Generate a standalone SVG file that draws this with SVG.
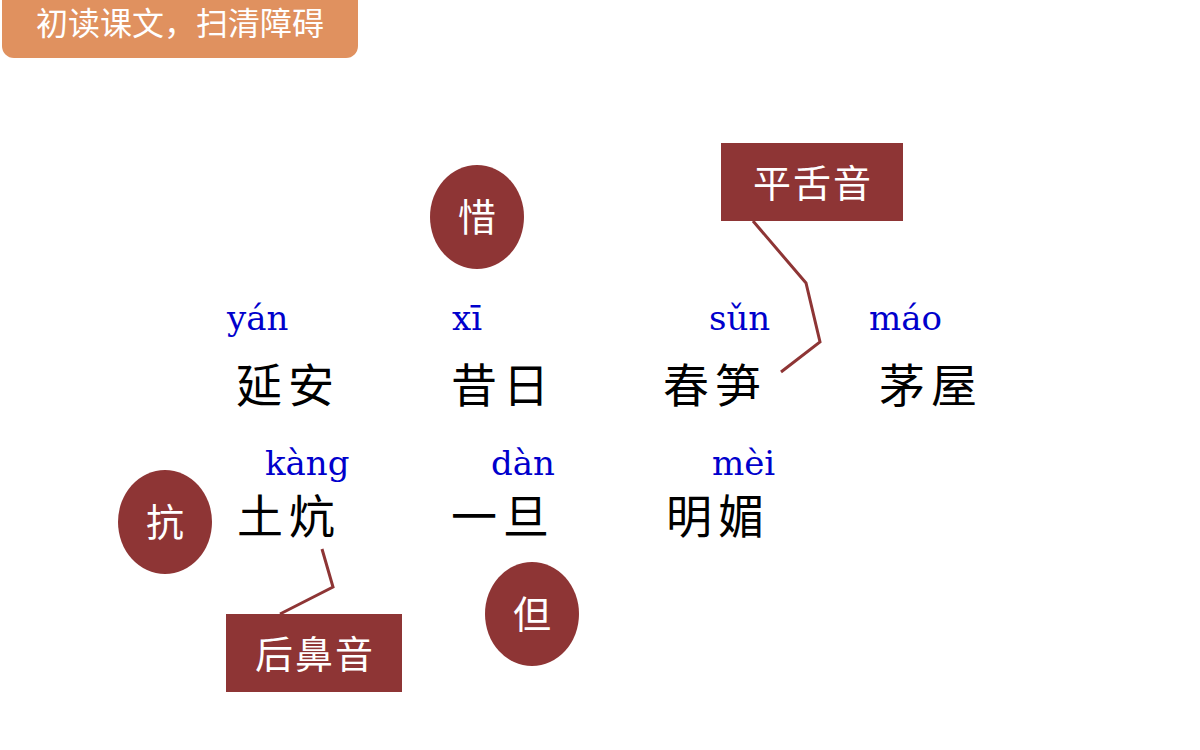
<svg xmlns="http://www.w3.org/2000/svg" width="1200" height="750" viewBox="0 0 1200 750">
<style>
.py{font-family:"DejaVu Serif",serif;font-size:34px;fill:#0000CC}
.cn{font-family:"Noto Sans CJK SC",sans-serif;font-size:46px;fill:#000;letter-spacing:6px}
.lb{font-family:"Noto Sans CJK SC",sans-serif;font-size:38px;fill:#fff;text-anchor:middle;letter-spacing:2px}
.red{fill:#8E3535}
.ln{stroke:#8E3535;stroke-width:3;fill:none}
</style>
<rect width="1200" height="750" fill="#fff"/>
<g id="header"><rect x="2" y="-12" width="356" height="70" rx="12" fill="#E0915F"/>
<text x="180" y="35" font-family="Noto Sans CJK SC,sans-serif" font-size="32" fill="#fff" text-anchor="middle">初读课文，扫清障碍</text></g>
<g id="connectors">
<polyline class="ln" points="753,221 806,283 820,342 781,372"/>
<polyline class="ln" points="322,549 333,587 280,614"/>
</g>
<g id="c1"><ellipse class="red" cx="477" cy="217" rx="47" ry="52"/><text class="lb" x="478" y="231">惜</text></g>
<g id="c2"><ellipse class="red" cx="165" cy="522" rx="47" ry="52"/><text class="lb" x="166" y="536">抗</text></g>
<g id="c3"><ellipse class="red" cx="532" cy="614" rx="47" ry="52"/><text class="lb" x="533" y="628">但</text></g>
<g id="b1"><rect class="red" x="721" y="143" width="182" height="78"/><text class="lb" x="813" y="197">平舌音</text></g>
<g id="b2"><rect class="red" x="226" y="614" width="176" height="78"/><text class="lb" x="315" y="668">后鼻音</text></g>
<g id="words">
<text class="py" x="227" y="330">yán</text><text class="cn" x="236" y="402">延安</text>
<text class="py" x="452" y="330">xī</text><text class="cn" x="451" y="402">昔日</text>
<text class="py" x="709" y="330">sǔn</text><text class="cn" x="663" y="402">春笋</text>
<text class="py" x="869" y="330">máo</text><text class="cn" x="879" y="402">茅屋</text>
<text class="py" x="265" y="475">kàng</text><text class="cn" x="237" y="533">土炕</text>
<text class="py" x="491" y="475">dàn</text><text class="cn" x="451" y="533">一旦</text>
<text class="py" x="712" y="475">mèi</text><text class="cn" x="666" y="533">明媚</text>
</g>
</svg>
